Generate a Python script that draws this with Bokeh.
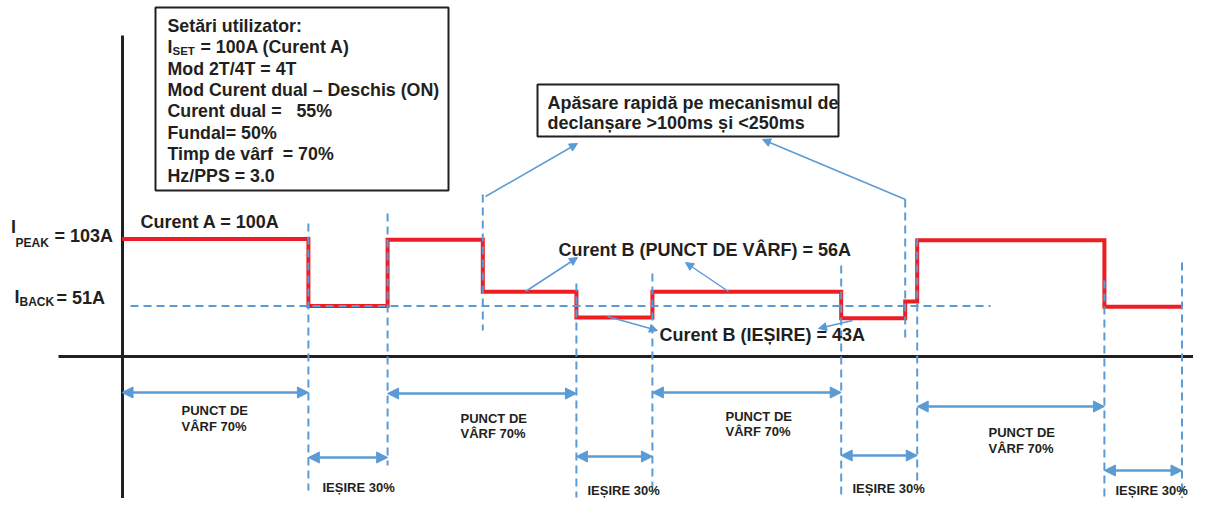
from bokeh.plotting import figure
from bokeh.models import Range1d, Label, Arrow, NormalHead
from bokeh.embed import file_html
from bokeh.resources import INLINE

# ---------------- data ----------------
# step edges of the welding current (ms) and the current level held in each interval (A)
edge_times = [0, 233, 332, 451, 568, 663, 899, 979, 994, 1228, 1325]
levels = [103, 51, 102.5, 62, 42, 62, 41.5, 54.5, 102, 50.5]
I_PEAK = 103
I_BACK = 51
peak_pct = 70
back_pct = 30

NB = "\u00a0"
settings_lines = [
    "Setări utilizator:",
    None,  # I_SET line, drawn with subscript
    "Mod 2T/4T = 4T",
    "Mod Curent dual – Deschis (ON)",
    "Curent dual =" + NB + NB + NB + "55%",
    "Fundal= 50%",
    "Timp de vârf" + NB + NB + "= 70%",
    "Hz/PPS = 3.0",
]
trigger_lines = ["Apăsare rapidă pe mecanismul de", "declanșare >100ms și <250ms"]
label_a = "Curent A = 100A"
label_b_peak = "Curent B (PUNCT DE VÂRF) = 56A"
label_b_exit = "Curent B (IEȘIRE) = 43A"
peak_label = ["PUNCT DE", "VÂRF %d%%" % peak_pct]
exit_label = "IEȘIRE %d%%" % back_pct

# peak / exit intervals as pairs of edge indices
peak_spans = [(0, 1), (2, 4), (5, 6), (8, 9)]
exit_spans = [(1, 2), (4, 5), (6, 8), (9, 10)]

# ---------------- layout helpers (diagram px -> data) ----------------
X0, SX = 121.5, 0.8
Y0, SY = 371.2, 1.2885
TEXT_DY = -5.5


def tx(px):
    return (px - X0) / SX


def ty(py):
    return (Y0 - py) / SY


RED = "#EE1D23"
BLUE = "#5B9BD5"
DARK = "#231F20"
FONT = "Liberation Sans"
W, H = 1193, 498

p = figure(width=W, height=H,
           x_range=Range1d(tx(0), tx(W)), y_range=Range1d(ty(H), ty(0)),
           output_backend="svg", toolbar_location=None, min_border=0,
           x_axis_location=None, y_axis_location=None)
p.outline_line_color = None
p.background_fill_color = "white"
p.border_fill_color = "white"
p.grid.visible = False

# axes drawn as lines
p.segment(x0=[tx(122)], y0=[ty(35)], x1=[tx(122)], y1=[ty(520)], line_color=DARK, line_width=3)
p.segment(x0=[tx(58)], y0=[ty(356)], x1=[tx(1215)], y1=[ty(356)], line_color=DARK, line_width=3)

# waveform
xs, ys = [], []
for i, lev in enumerate(levels):
    xs += [edge_times[i], edge_times[i + 1]]
    ys += [lev, lev]
p.line(xs, ys, line_color=RED, line_width=4, line_join="miter")

# I_BACK dashed reference
p.line([tx(130), tx(990)], [I_BACK, I_BACK], line_color=BLUE, line_width=2, line_dash="8 5")

# vertical dashed markers at the edges
marker_top_px = [223, 213, 194, 283, 273, 265, 199, 238, 280, 262]
marker_bot_px = [490, 465, 330, 497, 487, 495, 340, 483, 510, 510]
for t, a, b in zip(edge_times[1:], marker_top_px, marker_bot_px):
    p.line([t, t], [ty(a), ty(b)], line_color=BLUE, line_width=2, line_dash="8 5")

# boxes
p.quad(left=[tx(155)], right=[tx(448)], top=[ty(7)], bottom=[ty(190)],
       fill_color="white", line_color=DARK, line_width=2)
p.quad(left=[tx(537)], right=[tx(838)], top=[ty(84)], bottom=[ty(136)],
       fill_color="white", line_color=DARK, line_width=2)


def label(x, y, text, size=18, align="left"):
    p.add_layout(Label(x=tx(x), y=ty(y + TEXT_DY), text=text, text_font=FONT,
                       text_font_style="bold", text_font_size="%gpx" % size, text_color=DARK,
                       text_baseline="alphabetic", text_align=align))


def head(size):
    return NormalHead(size=size, fill_color=BLUE, line_color=BLUE, line_width=1)


def pointer(x0, y0, x1, y1):
    p.add_layout(Arrow(start=None, end=head(8),
                       x_start=tx(x0), y_start=ty(y0), x_end=tx(x1), y_end=ty(y1),
                       line_color=BLUE, line_width=1.5))


# duration arrows
peak_y = [392, 393, 392, 406]
exit_y = [457, 456, 455, 470]
for (a, b), yy in zip(peak_spans + exit_spans, peak_y + exit_y):
    p.add_layout(Arrow(start=head(11), end=head(11),
                       x_start=edge_times[a], y_start=ty(yy), x_end=edge_times[b], y_end=ty(yy),
                       line_color=BLUE, line_width=2.5))

# pointer arrows
pointer(485, 196, 577, 143)
pointer(905, 199, 762, 139)
pointer(525, 291, 577, 257)
pointer(728, 291, 685, 262)
pointer(607, 316, 657, 330)
pointer(852, 320, 818, 328)

# settings box text
base = [30.8, 52.2, 73.6, 95.0, 116.4, 137.8, 159.2, 180.6]
for line, b in zip(settings_lines, base):
    if line is not None:
        label(167, b, line, 17.8)
label(167, base[1], "I", 17.8)
label(172, 55.5, "SET", 11.5)
label(200, base[1], "= 100A (Curent A)", 17.8)

# trigger box text
label(547, 108, trigger_lines[0], 18)
label(547, 128, trigger_lines[1], 18)

# level labels
label(10.5, 232, "I", 18)
label(15, 248, "PEAK", 12)
label(54, 241, "= %dA" % I_PEAK, 18)
label(14, 302, "I", 18)
label(19, 307, "BACK", 12)
label(56, 303, "= %dA" % I_BACK, 18)

label(140, 226.5, label_a, 18)
label(558, 255, label_b_peak, 18)
label(659, 340, label_b_exit, 18)

# bottom labels
peak_lab_pos = [(181, 415, 431), (460, 423, 438), (725, 421, 436), (988, 437, 453)]
for x, b1, b2 in peak_lab_pos:
    label(x, b1, peak_label[0], 13)
    label(x, b2, peak_label[1], 13)
exit_lab_pos = [(322, 492.5), (587, 495), (852, 493), (1115, 495)]
for x, b in exit_lab_pos:
    label(x, b, exit_label, 13)

open("out.html", "w").write(file_html(p, INLINE))
